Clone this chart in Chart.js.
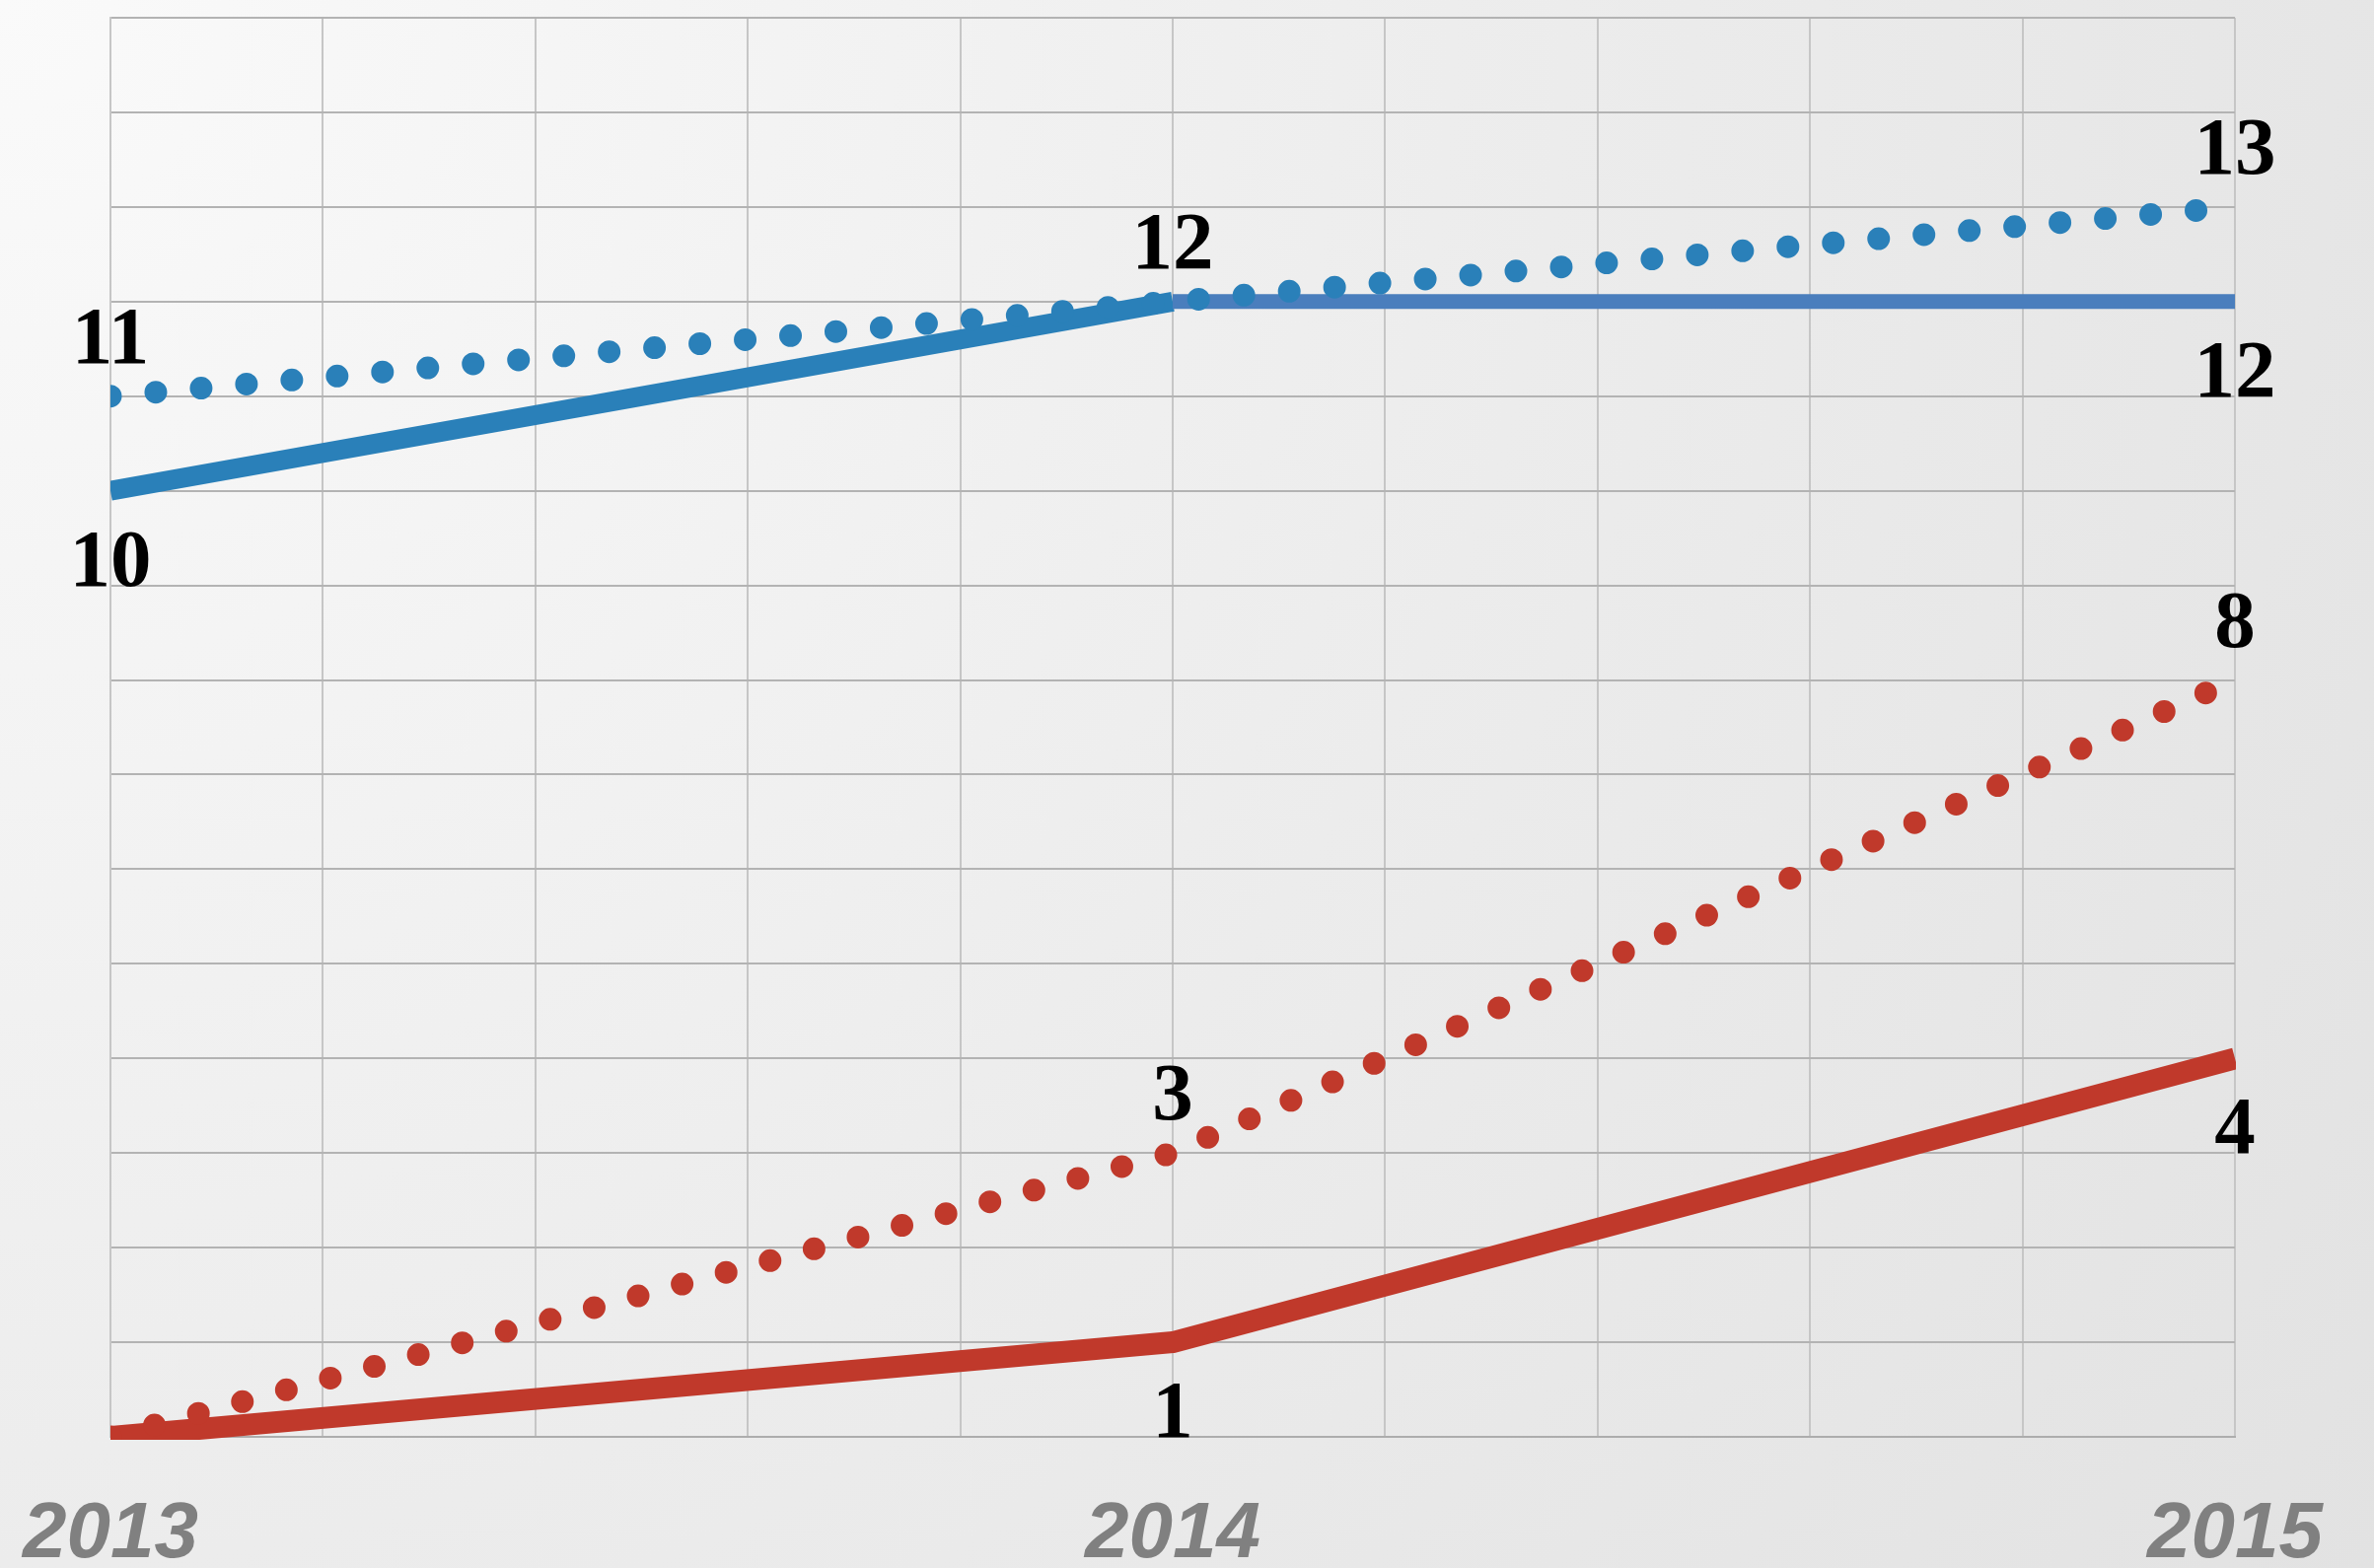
<!DOCTYPE html>
<html>
<head>
<meta charset="utf-8">
<script src="https://cdn.jsdelivr.net/npm/chart.js@4/dist/chart.umd.min.js"></script>
<style>
  html, body { margin: 0; padding: 0; }
  body {
    width: 2407px; height: 1590px; overflow: hidden;
    background: radial-gradient(circle farthest-corner at 0 0, #fafafa 0%, #ececec 55%, #e2e2e2 100%);
  }
  canvas { display: block; }
</style>
</head>
<body>
<canvas id="yearChart" width="2407" height="1590"></canvas>
<script>
var years = [2013, 2014, 2015];
var blueSolid = [10, 12, 12];
var blueDotted = [11, 12, 13];
var redSolid = [0, 1, 4];
var redDotted = [0, 3, 8];

// which points get a value label, and on which side
var blueSolidLabels = [0, 2];
var blueDottedLabels = [0, 1, 2];
var redSolidLabels = [1, 2];
var redDottedLabels = [1, 2];

function points(values) {
    return values.map((v, i) => ({ x: years[i], y: v }));
}

var valueLabels = {
    id: 'valueLabels',
    afterDatasetsDraw(chart) {
        let ctx = chart.ctx;
        let xs = chart.scales.x, ys = chart.scales.y;
        ctx.save();
        ctx.font = 'bold 83px "Liberation Serif", "DejaVu Serif", serif';
        ctx.fillStyle = '#000000';
        ctx.textAlign = 'center';
        ctx.textBaseline = 'alphabetic';
        chart.data.datasets.forEach(ds => {
            ds.labelIdx.forEach(i => {
                let px = xs.getPixelForValue(ds.data[i].x);
                let py = ys.getPixelForValue(ds.data[i].y);
                let by = ds.labelSide == 'above' ? py - 34 : py + 96;
                ctx.fillText(String(ds.data[i].y), px, by);
            });
        });
        ctx.restore();
    }
};

var chartCanvas = document.getElementById("yearChart");
var yearChart = new Chart(chartCanvas, {
    type: 'line',
    data: {
        datasets: [{
            label: 'blue dotted',
            data: points(blueDotted),
            borderColor: '#2a80b9',
            borderWidth: 23,
            borderDash: [0, 46.15],
            borderCapStyle: 'round',
            labelIdx: blueDottedLabels,
            labelSide: 'above'
        }, {
            label: 'red dotted',
            data: points(redDotted),
            borderColor: '#c0392b',
            borderWidth: 23,
            borderDash: [0, 46.15],
            borderCapStyle: 'round',
            labelIdx: redDottedLabels,
            labelSide: 'above'
        }, {
            label: 'blue solid',
            data: points(blueSolid),
            borderColor: '#2a80b9',
            borderWidth: 20,
            segment: {
                borderColor: c => c.p0DataIndex === 0 ? '#2a80b9' : '#4a7ebd',
                borderWidth: c => c.p0DataIndex === 0 ? 20 : 15
            },
            labelIdx: blueSolidLabels,
            labelSide: 'below'
        }, {
            label: 'red solid',
            data: points(redSolid),
            borderColor: '#c0392b',
            borderWidth: 22,
            labelIdx: redSolidLabels,
            labelSide: 'below'
        }]
    },
    options: {
        responsive: false,
        animation: false,
        devicePixelRatio: 1,
        layout: { padding: { left: 112, right: 141, top: 18, bottom: -67 } },
        elements: {
            point: { radius: 0, hoverRadius: 0 },
            line: { tension: 0, fill: false, borderJoinStyle: 'round' }
        },
        datasets: { line: { clip: { left: 0, right: 1, top: 0, bottom: 3 } } },
        plugins: { legend: { display: false }, tooltip: { enabled: false } },
        scales: {
            x: {
                type: 'linear',
                min: 2013,
                max: 2015,
                ticks: {
                    stepSize: 0.2,
                    autoSkip: false,
                    maxRotation: 0,
                    padding: 0,
                    color: '#808080',
                    font: { family: '"Liberation Sans", Arial, sans-serif', size: 80, weight: 'bold', style: 'italic', lineHeight: 2.5 },
                    callback: function (value) {
                        if (Math.abs(value - Math.round(value)) < 1e-6) { return String(Math.round(value)); }
                        return '';
                    }
                },
                grid: { color: '#c6c6c6', lineWidth: 2, drawTicks: false },
                border: { color: '#adadad', width: 2 }
            },
            y: {
                min: 0,
                max: 15,
                ticks: { stepSize: 1, display: false },
                grid: { color: '#b3b3b3', lineWidth: 2, drawTicks: false },
                border: { color: '#c6c6c6', width: 2 }
            }
        }
    },
    plugins: [valueLabels]
});
</script>
</body>
</html>
